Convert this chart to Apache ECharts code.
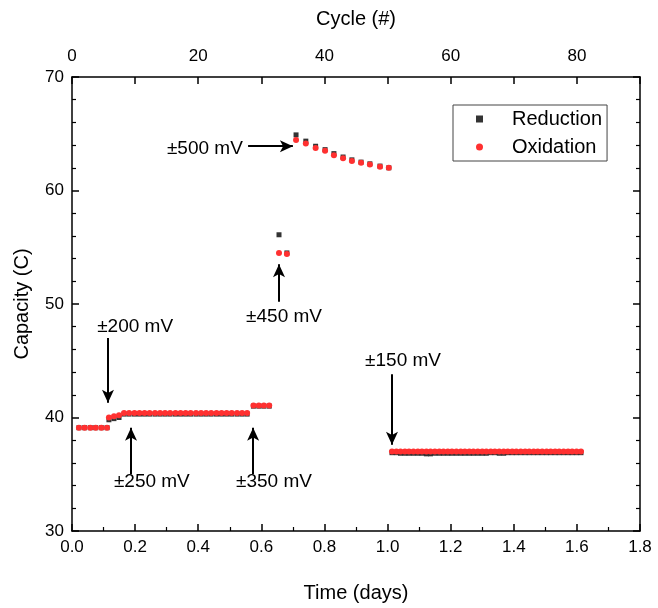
<!DOCTYPE html>
<html>
<head>
<meta charset="utf-8">
<script src="https://cdn.jsdelivr.net/npm/echarts@6/dist/echarts.min.js"></script>
<style>html,body{margin:0;padding:0;background:#fff;}#c{width:658px;height:608px;}</style>
</head>
<body>
<div id="c"></div>
<script>
// Time (days) of each cycle point
var timeDays = [
  0.022, 0.040, 0.058, 0.075, 0.093, 0.111,
  0.117, 0.133, 0.149,
  0.165, 0.181, 0.198, 0.214, 0.230, 0.246, 0.263, 0.279, 0.295, 0.311, 0.328, 0.344, 0.360,
  0.376, 0.393, 0.409, 0.425, 0.441, 0.458, 0.474, 0.490, 0.506, 0.523, 0.539, 0.555,
  0.575, 0.592, 0.608, 0.625,
  0.656, 0.681,
  0.710, 0.741, 0.772, 0.802, 0.830, 0.859, 0.887, 0.916, 0.944, 0.976, 1.004,
  1.014, 1.028, 1.041, 1.055, 1.068, 1.082, 1.096, 1.109, 1.123, 1.136, 1.150, 1.164, 1.177, 1.191, 1.204,
  1.218, 1.232, 1.245, 1.259, 1.272, 1.286, 1.300, 1.313, 1.327, 1.340, 1.354, 1.368, 1.381, 1.395, 1.408,
  1.422, 1.436, 1.449, 1.463, 1.476, 1.490, 1.504, 1.517, 1.531, 1.544, 1.558, 1.572, 1.585, 1.599, 1.613
];
var reduction = [
  39.1, 39.1, 39.1, 39.1, 39.1, 39.1,
  39.8, 39.9, 40.0,
  40.3, 40.3, 40.3, 40.3, 40.3, 40.3, 40.3, 40.3, 40.3, 40.3, 40.3, 40.3, 40.3,
  40.3, 40.3, 40.3, 40.3, 40.3, 40.3, 40.3, 40.3, 40.3, 40.3, 40.3, 40.3,
  41.0, 41.0, 41.0, 41.0,
  56.1, 54.5,
  64.9, 64.35, 63.9, 63.6, 63.25, 62.95, 62.7, 62.5, 62.35, 62.15, 62.0,
  36.9, 36.9, 36.85, 36.85, 36.85, 36.85, 36.85, 36.85, 36.8, 36.8, 36.85, 36.85, 36.85, 36.85, 36.85,
  36.85, 36.85, 36.85, 36.85, 36.85, 36.85, 36.85, 36.85, 36.9, 36.9, 36.85, 36.85, 36.9, 36.9, 36.9,
  36.9, 36.9, 36.9, 36.9, 36.9, 36.9, 36.9, 36.9, 36.9, 36.9, 36.9, 36.9, 36.9, 36.9, 36.9
];
var oxidation = [
  39.1, 39.1, 39.1, 39.1, 39.1, 39.1,
  40.0, 40.1, 40.2,
  40.4, 40.4, 40.4, 40.4, 40.4, 40.4, 40.4, 40.4, 40.4, 40.4, 40.4, 40.4, 40.4,
  40.4, 40.4, 40.4, 40.4, 40.4, 40.4, 40.4, 40.4, 40.4, 40.4, 40.4, 40.4,
  41.05, 41.05, 41.05, 41.05,
  54.5, 54.4,
  64.45, 64.15, 63.75, 63.5, 63.1, 62.85, 62.6, 62.45, 62.3, 62.1, 62.0,
  37.0, 37.0, 37.0, 37.0, 37.0, 37.0, 37.0, 37.0, 37.0, 37.0, 37.0, 37.0, 37.0, 37.0, 37.0,
  37.0, 37.0, 37.0, 37.0, 37.0, 37.0, 37.0, 37.0, 37.0, 37.0, 37.0, 37.0, 37.0, 37.0, 37.0,
  37.0, 37.0, 37.0, 37.0, 37.0, 37.0, 37.0, 37.0, 37.0, 37.0, 37.0, 37.0, 37.0, 37.0, 37.0
];
// Annotation labels: [time, capacity, text]
var annotLabels = [
  [0.200, 48.0, '±200 mV'],
  [0.253, 34.3, '±250 mV'],
  [0.640, 34.3, '±350 mV'],
  [0.672, 48.9, '±450 mV'],
  [0.421, 63.65, '±500 mV'],
  [1.049, 45.0, '±150 mV']
];
// Annotation arrows: [fromTime, fromCap, toTime, toCap]
var annotArrows = [
  [0.114, 47.0, 0.114, 41.3],
  [0.187, 35.0, 0.187, 39.1],
  [0.574, 35.0, 0.574, 39.1],
  [0.656, 50.2, 0.656, 53.5],
  [0.558, 63.9, 0.700, 63.9],
  [1.014, 43.8, 1.014, 37.6]
];

function zip(xs, ys) { return xs.map(function (x, i) { return [x, ys[i]]; }); }

var FONT = 'Liberation Sans, Arial, sans-serif';
var chart = echarts.init(document.getElementById('c'), null, { renderer: 'canvas' });
var axisLine = { show: true, onZero: false, lineStyle: { color: '#000', width: 1.5 } };
chart.setOption({
  animation: false,
  backgroundColor: '#fff',
  textStyle: { fontFamily: FONT },
  grid: { left: 72, right: 18, top: 77, bottom: 71, containLabel: false },
  legend: {
    data: [
      { name: 'Reduction', icon: 'rect' },
      { name: 'Oxidation', icon: 'circle' }
    ],
    orient: 'vertical',
    left: 453, top: 105,
    itemWidth: 7, itemHeight: 7, itemGap: 4,
    padding: [2, 5, 2, 23],
    borderColor: '#444', borderWidth: 1,
    textStyle: { fontSize: 20, color: '#000', fontFamily: FONT, padding: [0, 0, 0, 24], lineHeight: 24 }
  },
  xAxis: [
    {
      type: 'value', position: 'bottom', min: 0, max: 1.8, interval: 0.2,
      name: 'Time (days)', nameLocation: 'middle', nameGap: 52,
      nameTextStyle: { fontSize: 20, color: '#000', fontFamily: FONT },
      axisLine: axisLine,
      axisTick: { show: true, inside: true, length: 7, lineStyle: { color: '#000', width: 1.5 } },
      minorTick: { show: true, splitNumber: 2, length: 4, lineStyle: { color: '#000', width: 1.2 } },
      splitLine: { show: false },
      axisLabel: { fontSize: 17, color: '#000', margin: 8, fontFamily: FONT,
        formatter: function (v) { return v.toFixed(1); } }
    },
    {
      type: 'value', position: 'top', min: 0, max: 90, interval: 10,
      name: 'Cycle (#)', nameLocation: 'middle', nameGap: 48,
      nameTextStyle: { fontSize: 20, color: '#000', fontFamily: FONT },
      axisLine: axisLine,
      axisTick: { show: true, inside: true, length: 7, lineStyle: { color: '#000', width: 1.5 } },
      splitLine: { show: false },
      axisLabel: { fontSize: 17, color: '#000', margin: 12, fontFamily: FONT,
        formatter: function (v) { return v % 20 === 0 ? String(v) : ''; } }
    }
  ],
  yAxis: [
    {
      type: 'value', position: 'left', min: 30, max: 70, interval: 10,
      name: 'Capacity (C)', nameLocation: 'middle', nameGap: 40,
      nameTextStyle: { fontSize: 20, color: '#000', fontFamily: FONT },
      axisLine: axisLine,
      axisTick: { show: true, inside: true, length: 7, lineStyle: { color: '#000', width: 1.5 } },
      minorTick: { show: true, splitNumber: 5, length: 4, lineStyle: { color: '#000', width: 1.2 } },
      splitLine: { show: false },
      axisLabel: { fontSize: 17, color: '#000', margin: 8, fontFamily: FONT }
    },
    {
      type: 'value', position: 'right', min: 30, max: 70, interval: 10,
      axisLine: axisLine,
      axisTick: { show: true, inside: true, length: 7, lineStyle: { color: '#000', width: 1.5 } },
      minorTick: { show: true, splitNumber: 5, length: 4, lineStyle: { color: '#000', width: 1.2 } },
      splitLine: { show: false },
      axisLabel: { show: false }
    }
  ],
  series: [
    {
      name: 'Reduction', type: 'scatter', xAxisIndex: 0, yAxisIndex: 0,
      symbol: 'rect', symbolSize: 5,
      itemStyle: { color: '#333333', opacity: 1 },
      data: zip(timeDays, reduction)
    },
    {
      name: 'Oxidation', type: 'scatter', xAxisIndex: 0, yAxisIndex: 0,
      symbol: 'circle', symbolSize: 6,
      itemStyle: { color: '#ff3030', opacity: 1 },
      data: zip(timeDays, oxidation)
    },
    {
      name: 'annot', type: 'scatter', xAxisIndex: 0, yAxisIndex: 0,
      symbolSize: 0, silent: true,
      itemStyle: { color: '#000', opacity: 1 },
      label: { show: true, position: 'inside', fontSize: 19, color: '#000', fontFamily: FONT,
        textBorderWidth: 0, textBorderColor: 'transparent',
        formatter: function (p) { return p.data[2]; } },
      data: annotLabels,
      markLine: {
        silent: true, symbol: ['none', 'arrow'], symbolSize: [9, 13],
        lineStyle: { color: '#000', width: 2, type: 'solid', opacity: 1 },
        label: { show: false },
        data: annotArrows.map(function (a) {
          return [{ coord: [a[0], a[1]] }, { coord: [a[2], a[3]] }];
        })
      }
    }
  ]
});
</script>
</body>
</html>
